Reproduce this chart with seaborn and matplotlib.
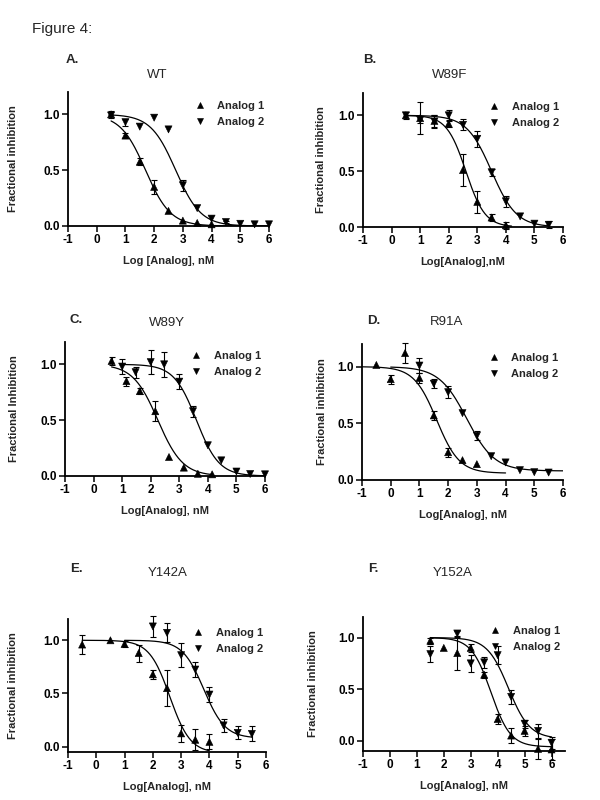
import numpy as np
import pandas as pd
import matplotlib
matplotlib.use("Agg")
import matplotlib.pyplot as plt
import seaborn as sns

sns.set_theme(style="ticks")
plt.rcParams['font.family'] = ['Liberation Sans', 'DejaVu Sans']
plt.rcParams['axes.unicode_minus'] = False

# ---- data ----
letters = ["A.", "B.", "C.", "D.", "E.", "F."]
mutants = ["WT", "W89F", "W89Y", "R91A", "Y142A", "Y152A"]
xlabels = ["Log [Analog], nM", "Log[Analog],nM", "Log[Analog], nM",
           "Log[Analog], nM", "Log[Analog], nM", "Log[Analog], nM"]
ylabels = ["Fractional inhibition", "Fractional inhibition", "Fractional Inhibition",
           "Fractional inhibition", "Fractional inhibition", "Fractional inhibition"]

a1_x = [[0.5, 1, 1.5, 2, 2.5, 3, 3.5, 4],
        [0.5, 1, 1.5, 2, 2.5, 3, 3.5, 4],
        [0.63, 1.15, 1.62, 2.16, 2.64, 3.16, 3.65, 4.15],
        [-0.5, 0, 0.5, 1, 1.5, 2, 2.5, 3],
        [-0.5, 0.5, 1, 1.5, 2, 2.5, 3, 3.5, 4],
        [1.5, 2, 2.5, 3, 3.5, 4, 4.5, 5, 5.5, 6]]
a1_y = [[1.0, 0.81, 0.575, 0.35, 0.135, 0.048, 0.027, 0.015],
        [1.0, 0.975, 0.95, 0.925, 0.51, 0.225, 0.085, 0.015],
        [1.03, 0.85, 0.76, 0.58, 0.17, 0.075, 0.02, 0.015],
        [1.015, 0.89, 1.12, 0.9, 0.57, 0.245, 0.175, 0.14],
        [0.96, 1.0, 0.965, 0.88, 0.68, 0.55, 0.125, 0.065, 0.045],
        [0.97, 0.9, 0.85, 0.9, 0.64, 0.21, 0.05, 0.095, -0.08, -0.085]]
a1_err = [[0.03, 0.02, 0.03, 0.065, 0, 0, 0, 0],
          [0.03, 0.14, 0.05, 0.03, 0.14, 0.1, 0.03, 0.03],
          [0.04, 0.04, 0.03, 0.09, 0, 0, 0, 0],
          [0, 0.04, 0.09, 0.04, 0.04, 0.04, 0, 0],
          [0.09, 0, 0.03, 0.08, 0.04, 0.17, 0.08, 0.1, 0.07],
          [0.03, 0, 0.16, 0.04, 0.03, 0.05, 0.07, 0.05, 0.1, 0.1]]

a2_x = [[0.5, 1, 1.5, 2, 2.5, 3, 3.5, 4, 4.5, 5, 5.5, 6],
        [0.5, 1, 1.5, 2, 2.5, 3, 3.5, 4, 4.5, 5, 5.5],
        [1, 1.47, 2, 2.47, 3, 3.48, 4, 4.47, 5, 5.48, 6],
        [1, 1.5, 2, 2.5, 3, 3.5, 4, 4.5, 5, 5.5],
        [2, 2.5, 3, 3.5, 4, 4.5, 5, 5.5],
        [1.5, 2.5, 3, 3.5, 4, 4.5, 5, 5.5, 6]]
a2_y = [[0.99, 0.93, 0.89, 0.97, 0.865, 0.365, 0.16, 0.066, 0.036, 0.02, 0.015, 0.015],
        [1.0, 0.96, 0.945, 1.0, 0.915, 0.79, 0.49, 0.23, 0.095, 0.03, 0.02],
        [0.98, 0.93, 1.02, 1.0, 0.845, 0.58, 0.275, 0.14, 0.04, 0.018, 0.015],
        [1.01, 0.85, 0.775, 0.59, 0.39, 0.21, 0.155, 0.087, 0.069, 0.066],
        [1.13, 1.07, 0.86, 0.725, 0.49, 0.2, 0.13, 0.12],
        [0.84, 1.04, 0.75, 0.76, 0.83, 0.425, 0.165, 0.095, -0.02]]
a2_err = [[0, 0.03, 0, 0, 0, 0.05, 0, 0, 0.01, 0, 0, 0],
          [0, 0.03, 0.06, 0.05, 0.05, 0.07, 0.03, 0.05, 0, 0, 0.03],
          [0.07, 0.05, 0.11, 0.11, 0.07, 0.05, 0, 0, 0, 0, 0],
          [0.07, 0.04, 0.05, 0, 0.04, 0, 0, 0, 0, 0],
          [0.1, 0.09, 0.11, 0.07, 0.07, 0.06, 0.06, 0.07],
          [0.08, 0.02, 0.08, 0.05, 0.09, 0.07, 0.04, 0.07, 0.06]]

# sigmoidal fit parameters (top, bottom, logIC50, hill, x from, x to)
a1_fit = [(1, 0, 1.7, 1.0, 0.5, 6), (1, 0, 2.6, 1.3, 0.5, 4.2),
          (1, 0, 2.25, 1.0, 0.63, 4.15), (1, 0.06, 1.6, 1.1, -1, 4),
          (1, -0.06, 2.6, 1.2, -0.5, 4), (1, -0.06, 3.75, 1.2, 1.5, 6)]
a2_fit = [(1, 0, 2.75, 1.0, 0.5, 6), (1, 0, 3.5, 1.0, 0.5, 5.5),
          (1, 0, 3.6, 1.1, 1.0, 6), (1, 0.08, 2.65, 0.9, 0, 6),
          (1, 0.08, 3.8, 1.15, 1.0, 5.5), (1, 0.02, 4.4, 1.1, 1.5, 6)]

# ---- layout (pixel boxes: left, top, right, bottom) ----
boxes = [(68, 92, 269, 226), (363, 93, 563, 227), (65, 342, 265, 476),
         (362, 344, 563, 480), (68, 619, 266, 752), (363, 617, 565, 751)]
ylims = [(0, 1.2), (0, 1.2), (0, 1.2), (0, 1.2), (-0.05, 1.2), (-0.1, 1.2)]
xlims = [(-1, 6), (-1, 6), (-1, 6), (-1, 6), (-1, 6), (-1, 6.5)]
title_pos = [(157, 75), (450, 75), (167, 323), (447, 322), (168, 573), (453, 573)]
letter_pos = [(66, 60), (363, 60), (70, 320), (367, 321), (70, 569), (368, 569)]
ylab_x = [-0.25, -0.185, -0.23, -0.175, -0.25, -0.225]

W, H = 600, 800
fig = plt.figure(figsize=(6, 8), dpi=100)
fig.text(32 / W, 1 - 29 / H, "Figure 4:", fontsize=11, ha='left', va='center')


def sigmoid(x, p):
    top, bot, c, h = p[:4]
    return bot + (top - bot) / (1 + 10 ** ((x - c) * h))


for i in range(6):
    l, t, r, b = boxes[i]
    ax = fig.add_axes([l / W, 1 - b / H, (r - l) / W, (b - t) / H])

    pts = pd.concat([
        pd.DataFrame({"x": a1_x[i], "y": a1_y[i], "err": a1_err[i], "series": "Analog 1"}),
        pd.DataFrame({"x": a2_x[i], "y": a2_y[i], "err": a2_err[i], "series": "Analog 2"}),
    ])
    curves = []
    for name, p in (("Analog 1", a1_fit[i]), ("Analog 2", a2_fit[i])):
        xx = np.linspace(p[4], p[5], 200)
        curves.append(pd.DataFrame({"x": xx, "y": sigmoid(xx, p), "series": name}))
    curves = pd.concat(curves)

    sns.lineplot(data=curves, x="x", y="y", units="series", estimator=None,
                 color="black", lw=0.9, ax=ax, legend=False)
    e = pts[pts.err > 0]
    ax.errorbar(e.x, e.y, yerr=e.err, fmt='none', ecolor='black',
                elinewidth=0.8, capsize=2.5, capthick=0.8, clip_on=False)
    sns.scatterplot(data=pts, x="x", y="y", style="series",
                    markers={"Analog 1": "^", "Analog 2": "v"}, color="black",
                    edgecolor="black", s=26, ax=ax, clip_on=False, zorder=3)

    handles, labels = ax.get_legend_handles_labels()
    ax.legend(handles, labels, loc="upper left", bbox_to_anchor=(0.55, 1.01),
              frameon=False, prop={'weight': 'bold', 'size': 8},
              handletextpad=0.6, labelspacing=0.55, markerscale=0.9)

    ax.set_xlim(*xlims[i])
    ax.set_ylim(*ylims[i])
    ax.set_xticks(range(-1, 7))
    ax.set_yticks([0.0, 0.5, 1.0])
    ax.set_yticklabels(["0.0", "0.5", "1.0"])
    sns.despine(ax=ax)
    for s in ("left", "bottom"):
        ax.spines[s].set_linewidth(1.3)
        ax.spines[s].set_color("black")
    ax.tick_params(direction="out", length=4, width=1.1, labelsize=8.5,
                   colors="black", pad=2)
    for lab in ax.get_xticklabels() + ax.get_yticklabels():
        lab.set_fontweight("bold")

    ax.set_xlabel(xlabels[i], fontsize=8, fontweight="bold", labelpad=7)
    ax.set_ylabel(ylabels[i], fontsize=8, fontweight="bold")
    ax.yaxis.set_label_coords(ylab_x[i], 0.5)

    tx, ty = title_pos[i]
    fig.text(tx / W, 1 - ty / H, mutants[i], fontsize=9.5, ha='center', va='center')
    lx, ly = letter_pos[i]
    fig.text(lx / W, 1 - ly / H, letters[i], fontsize=9.5, fontweight='bold',
             ha='left', va='center')

fig.savefig("out.png", dpi=100, facecolor="white")
